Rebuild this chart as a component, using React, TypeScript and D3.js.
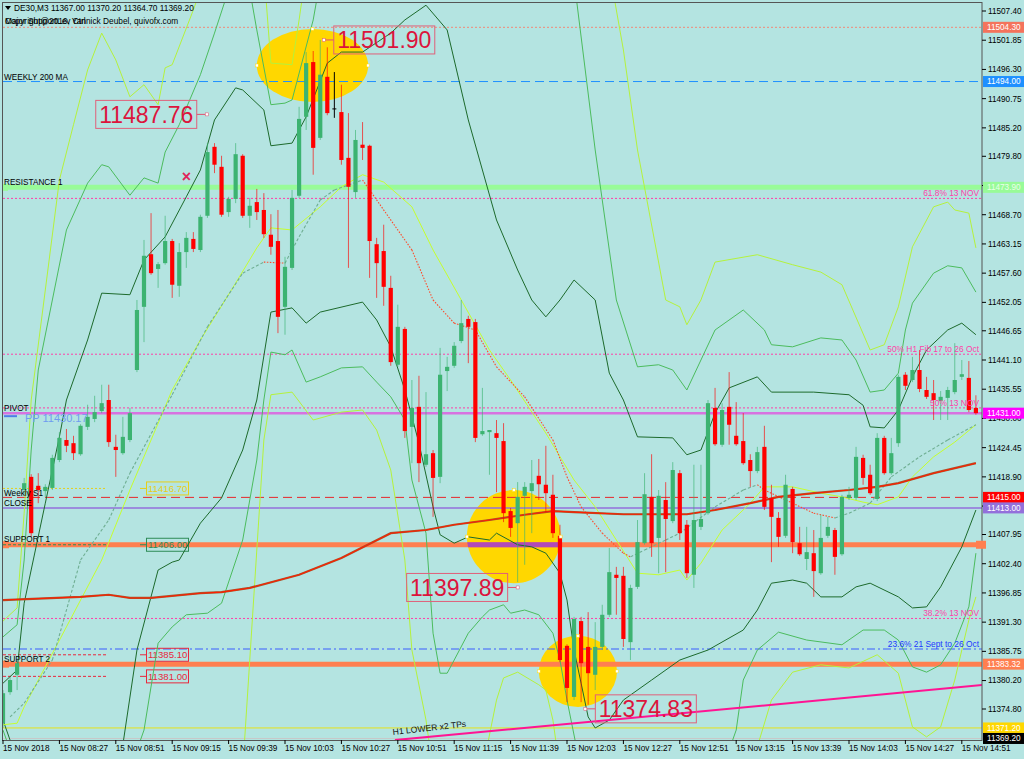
import React from 'react';
import * as d3 from 'd3';

// DE30 M3 candles, 15 Nov 2018, bar 0 = 08:03
const opens = [11372.1,11378.0,11381.3,11416.4,11418.9,11417.2,11416.2,11416.8,11422.1,11425.9,11425.3,11423.2,11428.4,11429.9,11431.4,11433.5,11424.6,11423.4,11425.9,11439.2,11451.2,11461.2,11458.4,11459.5,11463.7,11455.2,11461.6,11464.1,11462.0,11468.5,11481.6,11477.8,11469.2,11471.7,11479.9,11468.5,11471.1,11469.6,11464.9,11463.7,11451.2,11458.6,11472.3,11487.3,11497.7,11483.3,11494.9,11488.8,11488.2,11479.5,11473.0,11482.0,11481.8,11463.1,11461.8,11454.8,11440.2,11447.0,11428.4,11432.2,11421.2,11423.4,11418.9,11439.0,11440.0,11444.7,11448.9,11448.3,11427.0,11427.4,11427.2,11425.7,11412.4,11410.1,11415.3,11416.2,11419.1,11417.4,11415.5,11407.7,11386.8,11377.1,11391.5,11386.6,11381.3,11386.6,11392.7,11400.3,11400.1,11387.5,11398.0,11406.3,11415.1,11407.3,11414.5,11410.5,11419.6,11409.8,11400.3,11409.4,11412.0,11432.0,11425.0,11432.2,11426.7,11425.7,11422.1,11420.0,11424.6,11414.9,11411.1,11407.7,11416.6,11406.3,11403.3,11404.4,11400.6,11407.7,11408.8,11404.2,11414.9,11414.9,11422.5,11419.3,11414.7,11426.3,11419.6,11425.3,11438.3,11437.3,11439.2,11435.4,11434.8,11433.3,11433.9,11435.0,11437.9,11437.7,11432.0];
const highs = [11378.4,11380.9,11384.1,11418.7,11419.4,11419.6,11417.5,11423.1,11427.4,11428.0,11426.7,11428.9,11432.6,11434.3,11436.4,11436.4,11426.9,11430.3,11432.0,11452.5,11463.9,11469.0,11459.7,11468.5,11464.1,11463.3,11465.4,11465.4,11468.7,11482.3,11482.3,11479.9,11472.1,11482.3,11480.2,11471.9,11473.6,11472.8,11468.8,11469.6,11460.7,11473.4,11489.2,11499.6,11499.8,11501.9,11500.5,11495.8,11493.4,11488.0,11484.8,11486.3,11482.0,11464.3,11466.8,11457.1,11451.6,11447.4,11437.3,11438.1,11435.0,11424.0,11443.4,11441.7,11444.5,11452.5,11449.5,11448.9,11435.8,11427.8,11429.7,11429.1,11413.0,11417.9,11417.9,11422.1,11422.3,11424.8,11419.3,11409.8,11387.1,11392.3,11392.3,11393.2,11391.3,11394.6,11405.4,11401.8,11401.8,11398.4,11410.7,11419.6,11423.2,11416.4,11417.9,11421.7,11420.2,11410.7,11421.2,11421.2,11433.5,11435.8,11432.9,11438.8,11433.1,11431.0,11423.2,11424.6,11428.6,11417.4,11412.2,11419.3,11417.0,11409.4,11409.4,11408.8,11411.7,11411.3,11409.2,11415.5,11417.0,11424.6,11423.1,11421.2,11427.2,11426.7,11426.3,11438.3,11438.8,11441.7,11443.0,11437.9,11437.3,11435.2,11436.0,11444.3,11441.1,11440.9,11434.4];
const lows = [11371.2,11377.5,11378.4,11415.5,11407.5,11413.9,11415.1,11416.4,11421.7,11423.6,11422.1,11422.9,11427.8,11429.3,11431.0,11424.6,11418.9,11423.1,11425.5,11438.8,11444.5,11457.3,11454.8,11459.2,11452.9,11453.1,11458.6,11461.6,11461.6,11468.1,11476.6,11468.3,11468.3,11470.9,11468.1,11466.2,11467.7,11464.3,11461.1,11446.2,11445.9,11458.2,11471.9,11484.8,11476.3,11482.9,11487.6,11487.1,11478.2,11458.6,11471.9,11479.1,11456.7,11452.9,11451.4,11440.0,11439.8,11426.3,11421.5,11417.9,11420.8,11411.3,11417.7,11435.2,11439.6,11444.3,11440.5,11425.5,11426.7,11419.3,11416.0,11410.3,11407.5,11398.9,11402.2,11408.2,11414.5,11412.2,11407.3,11383.7,11376.1,11376.5,11376.1,11375.6,11378.4,11386.0,11392.3,11392.7,11386.6,11384.1,11397.6,11406.0,11403.7,11400.6,11400.8,11410.1,11406.9,11399.7,11397.8,11408.8,11411.7,11424.8,11424.6,11425.0,11424.8,11421.2,11417.0,11419.6,11412.6,11402.7,11405.6,11407.3,11404.4,11403.9,11401.2,11396.1,11400.3,11407.3,11400.3,11403.9,11414.5,11414.5,11417.4,11415.5,11414.3,11419.3,11419.3,11424.6,11435.4,11436.9,11435.0,11433.7,11429.7,11429.7,11429.7,11434.6,11437.3,11431.2,11430.7];
const closes = [11377.8,11380.3,11383.5,11417.7,11408.2,11416.4,11417.0,11422.5,11426.3,11424.8,11423.4,11428.6,11430.3,11431.2,11432.9,11425.5,11424.0,11426.5,11431.0,11450.6,11460.9,11457.6,11459.3,11463.7,11455.4,11461.6,11464.3,11462.2,11468.3,11480.6,11478.2,11468.7,11471.7,11480.2,11468.5,11470.4,11469.2,11465.0,11462.6,11449.3,11458.8,11471.9,11486.9,11497.5,11481.4,11495.3,11488.0,11488.8,11479.1,11474.0,11482.9,11481.4,11463.7,11459.5,11455.0,11440.7,11447.4,11427.6,11432.0,11421.5,11423.2,11418.7,11438.3,11439.8,11443.8,11448.1,11447.4,11426.3,11427.6,11427.8,11426.3,11412.0,11409.2,11415.1,11417.0,11417.7,11417.5,11415.8,11408.2,11384.1,11378.8,11391.9,11383.5,11381.6,11386.6,11392.7,11400.8,11399.7,11388.1,11397.8,11406.5,11415.6,11406.3,11415.3,11410.9,11420.2,11408.2,11400.6,11410.7,11410.9,11432.9,11425.1,11431.6,11428.8,11425.1,11421.5,11420.0,11423.6,11413.2,11411.3,11407.5,11417.4,11406.5,11404.2,11404.6,11401.0,11407.3,11409.4,11403.7,11415.1,11415.5,11422.7,11418.7,11415.8,11426.3,11419.6,11423.4,11437.9,11436.2,11439.2,11435.6,11434.1,11433.5,11434.1,11435.4,11437.3,11438.4,11431.6,11431.0];

// indicator lines as [bar, price]
const darkUpper = [[0,11379.7],[2,11382.2],[3,11394.9],[6,11413.9],[8,11426.5],[9,11433.5],[12,11444.9],[14,11453.8],[18,11453.5],[20,11460.1],[23,11464.5],[26,11472.1],[28,11477.2],[30,11486.7],[33,11492.8],[34,11492.4],[37,11488.6],[38,11481.8],[41,11482.3],[43,11487.3],[46,11497.5],[48,11499.6],[51,11499.6],[55,11503.2],[57,11505.7],[60,11508.5],[63,11503.8],[66,11486.7],[70,11467.7],[73,11458.2],[75,11452.5],[77,11449.3],[79,11452.5],[81,11456.3],[84,11452.5],[86,11438.6],[88,11433.5],[90,11426.5],[95,11426.3],[97,11423.1],[99,11424.0],[101,11431.0],[103,11435.8],[107,11437.9],[109,11435.0],[115,11435.0],[120,11434.5],[122,11432.5],[123,11428.4],[125,11428.2],[127,11431.6],[129,11437.9],[131,11443.0],[134,11446.8],[136,11448.1],[138,11445.9]];
const darkLower = [[0,11372.7],[2,11365.1],[15,11361.3],[17,11368.0],[19,11386.0],[22,11401.2],[24,11402.7],[25,11403.1],[28,11410.1],[31,11414.9],[34,11424.0],[36,11433.5],[38,11450.2],[41,11451.0],[43,11448.1],[45,11450.2],[51,11452.1],[53,11448.7],[55,11443.6],[57,11435.4],[59,11425.3],[61,11413.2],[62,11407.9],[64,11406.3],[66,11407.5],[69,11406.9],[70,11408.2],[73,11406.0],[75,11405.6],[77,11404.4],[79,11400.6],[80,11395.5],[81,11386.0],[82,11379.7],[83,11373.3],[84,11371.2],[86,11372.7],[88,11376.5],[92,11380.3],[96,11384.1],[100,11386.0],[105,11389.8],[107,11393.6],[109,11398.7],[112,11399.3],[114,11398.7],[116,11396.1],[119,11396.1],[121,11398.0],[123,11398.7],[127,11396.1],[129,11394.0],[131,11394.2],[133,11398.0],[136,11405.6],[138,11412.6]];
const midUpper = [[0,11388.5],[2,11390.8],[3,11403.1],[4,11424.0],[5,11439.2],[7,11452.5],[9,11465.8],[12,11474.7],[14,11478.2],[15,11477.8],[18,11472.4],[20,11475.7],[22,11474.7],[23,11480.6],[25,11485.8],[28,11495.3],[30,11503.2],[32,11511.4],[35,11511.4],[36,11503.8],[38,11489.6],[40,11489.9],[41,11490.5],[44,11505.7],[45,11513.3],[81,11513.3],[84,11481.0],[87,11452.5],[90,11439.8],[93,11440.2],[95,11439.2],[97,11435.4],[99,11441.1],[101,11446.8],[105,11450.6],[108,11446.8],[109,11444.0],[112,11443.6],[116,11445.3],[119,11444.9],[121,11441.1],[123,11435.0],[125,11435.4],[127,11438.6],[128,11446.8],[129,11451.9],[132,11457.6],[134,11459.0],[136,11458.6],[138,11454.0]];
const midLower = [[0,11370.8],[2,11363.2],[18,11363.2],[20,11370.8],[22,11387.3],[24,11390.4],[26,11392.7],[29,11393.0],[31,11394.9],[34,11406.9],[36,11422.1],[37,11433.5],[38,11442.6],[40,11442.1],[41,11443.0],[43,11436.9],[45,11437.9],[48,11439.6],[51,11439.8],[53,11436.9],[55,11434.1],[57,11429.7],[58,11418.3],[60,11408.2],[61,11389.2],[62,11381.6],[63,11381.6],[64,11384.1],[66,11389.2],[68,11392.3],[69,11393.6],[71,11394.6],[72,11393.0],[74,11393.6],[76,11392.7],[78,11389.2],[79,11384.1],[80,11376.5],[82,11363.2],[102,11363.2],[104,11370.8],[105,11380.3],[107,11386.0],[110,11389.4],[114,11387.9],[119,11387.0],[122,11389.8],[125,11389.8],[127,11387.9],[129,11382.8],[131,11381.8],[133,11383.2],[135,11387.3],[137,11394.2],[138,11404.4]];
const lightUpper = [[0,11391.5],[2,11394.0],[3,11412.0],[4,11433.5],[6,11454.4],[8,11475.3],[10,11485.8],[12,11496.2],[14,11503.2],[16,11498.1],[18,11491.1],[20,11493.4],[22,11489.6],[23,11496.6],[24,11497.2],[27,11507.6],[29,11515.2],[37,11515.2],[38,11497.5],[41,11497.2],[42,11505.7],[43,11515.2],[86,11515.2],[88,11500.0],[90,11481.0],[94,11452.5],[96,11451.2],[97,11447.8],[99,11452.5],[101,11459.7],[107,11461.1],[112,11459.2],[116,11457.8],[119,11455.4],[123,11443.0],[125,11444.0],[127,11451.2],[129,11462.6],[132,11470.2],[134,11471.1],[135,11469.6],[137,11469.0],[138,11462.4]];
const lightLower = [[0,11362.0],[34,11363.2],[37,11425.9],[38,11434.5],[41,11435.0],[44,11429.7],[48,11431.2],[51,11431.6],[53,11427.8],[55,11420.2],[57,11403.1],[58,11386.0],[60,11372.7],[61,11363.2],[68,11363.2],[70,11376.5],[71,11380.7],[73,11381.8],[76,11379.4],[77,11378.4],[78,11372.7],[79,11363.2],[106,11363.2],[109,11376.5],[112,11381.8],[116,11383.2],[120,11382.6],[124,11385.1],[127,11381.6],[129,11371.4],[131,11369.5],[133,11371.4],[135,11380.3],[137,11391.7],[138,11396.1]];
const fastMa = [[0,11371.8],[2,11372.1],[3,11375.2],[9,11390.4],[14,11403.1],[18,11416.4],[24,11435.4],[28,11444.9],[33,11455.7],[36,11462.4],[38,11466.2],[41,11465.8],[45,11470.2],[48,11474.0],[51,11476.3],[54,11474.9],[58,11470.2],[61,11462.0],[65,11452.5],[69,11443.0],[72,11437.3],[77,11427.2],[81,11418.3],[84,11413.2],[87,11406.9],[90,11400.6],[93,11400.3],[96,11401.2],[97,11399.3],[99,11402.5],[102,11408.8],[106,11413.9],[108,11417.0],[112,11417.0],[116,11415.8],[119,11415.1],[122,11414.1],[124,11413.6],[127,11415.1],[129,11418.9],[132,11422.7],[135,11425.5],[138,11428.8]];
const signalMa = [[1,11373.3],[3,11375.9],[7,11384.1],[11,11403.1],[15,11410.7],[18,11419.6],[24,11434.5],[29,11447.4],[34,11457.6],[37,11459.7],[40,11459.5],[42,11464.5],[45,11471.5],[47,11473.4],[51,11475.3],[52,11473.4],[58,11462.0],[61,11452.5],[64,11448.1],[67,11446.8],[70,11439.8],[74,11434.1],[78,11425.9],[80,11418.9],[82,11413.2],[85,11408.2],[88,11404.4],[89,11403.7],[91,11405.0],[94,11406.9],[96,11408.2],[101,11413.2],[105,11416.4],[107,11417.4],[108,11416.4],[112,11413.9],[115,11412.0],[118,11411.1],[120,11412.0],[123,11413.9],[126,11418.9],[130,11422.7],[134,11425.9],[138,11428.8]];
const slowMa = [[0,11395.5],[11,11396.1],[15,11396.5],[18,11395.9],[21,11395.9],[28,11396.8],[31,11397.0],[35,11397.8],[42,11400.3],[48,11403.5],[55,11408.2],[60,11408.8],[64,11409.8],[69,11410.7],[74,11411.7],[78,11412.4],[81,11412.2],[88,11411.8],[97,11411.8],[101,11412.6],[106,11413.9],[110,11415.1],[115,11415.8],[120,11416.4],[124,11417.0],[127,11417.7],[132,11419.6],[138,11421.5]];
const trendH1 = [[55.6,11368.9],[139.2,11379.4]];

// axis labels
const timeLabels = ['15 Nov 2018','15 Nov 08:27','15 Nov 08:51','15 Nov 09:15','15 Nov 09:39','15 Nov 10:03','15 Nov 10:27','15 Nov 10:51','15 Nov 11:15','15 Nov 11:39','15 Nov 12:03','15 Nov 12:27','15 Nov 12:51','15 Nov 13:15','15 Nov 13:39','15 Nov 14:03','15 Nov 14:27','15 Nov 14:51'];
const priceTicks = [11507.40,11501.85,11496.30,11490.75,11485.20,11479.80,11474.25,11468.70,11463.15,11457.60,11452.05,11446.65,11441.10,11435.55,11430.00,11424.45,11418.90,11413.35,11407.95,11402.40,11396.85,11391.30,11385.75,11380.20,11374.80];

// horizontal levels
const TOP_LEVEL = 11504.3;
const WEEKLY_200_MA = 11494.0;
const RESISTANCE_1 = 11473.9;
const FIB_618_NOV = 11471.8;
const FIB_50_OCT = 11442.2;
const FIB_50_NOV = 11432.0;
const PIVOT = 11431.0;
const WEEKLY_S1 = 11416.7;
const CLOSE_LEVEL = 11415.0;
const PURPLE_LEVEL = 11413.0;
const SUPPORT_1 = 11406.0;
const FIB_382_NOV = 11392.0;
const FIB_236_OCT = 11386.2;
const TAG_A = 11385.1;
const SUPPORT_2 = 11383.32;
const TAG_B = 11381.0;
const YELLOW_LEVEL = 11371.2;
const BID = 11369.2;

// drawn objects
const annBars = [45.5, 28.9, 73.0, 82.6];
const annPrices = [11501.9, 11487.76, 11397.89, 11374.83];
const annSides = [1, -1, -1, 1];
const ellBars = [[36.0, 51.8], [65.8, 79.1], [76.0, 87.1]];
const ellPrices = [[11504.0, 11490.1], [11416.4, 11398.7], [11388.7, 11375.2]];
const crossPoint = [26, 11475.9];

const FONT = "'Liberation Sans', Arial, sans-serif";
const BG = '#b4e4e1';

export default function App() {
  const L = 3, R = 982, T = 2, B = 740;
  const x = d3.scaleLinear().domain([0, 138]).range([3, 3 + 138 * 7.05]);
  const y = d3.scaleLinear().domain([11374.8, 11507.4]).range([709, 11]);
  const line = d3.line<number[]>().x(d => x(d[0])).y(d => y(d[1]));

  const hl = (p: number, stroke: string, w: number, dash?: string, x1 = L, x2 = R) => (
    <line x1={x1} x2={x2} y1={y(p)} y2={y(p)} stroke={stroke} strokeWidth={w} strokeDasharray={dash} />
  );

  const rightTag = (p: number, fill: string, text: string, color = '#fff') => (
    <g key={text}>
      <rect x={983} y={y(p) - 5.5} width={41} height={11} fill={fill} />
      <text x={987} y={y(p)} dy="0.35em" fontSize={8.2} fill={color}>{text}</text>
    </g>
  );

  const leftBox = (p: number, color: string, text: string, dash: string) => (
    <g key={text}>
      <line x1={L} x2={107} y1={y(p)} y2={y(p)} stroke={color} strokeDasharray={dash} />
      <line x1={140} x2={146} y1={y(p)} y2={y(p)} stroke={color} />
      <rect x={146.5} y={y(p) - 6.5} width={42} height={13} fill="none" stroke={color} />
      <text x={148} y={y(p)} dy="0.36em" fontSize={9.6} fill={color}>{text}</text>
    </g>
  );

  const fibText = (p: number, text: string, color: string) => (
    <text x={979} y={y(p) - 2} textAnchor="end" fontSize={8.4} fill={color}>{text}</text>
  );

  const ellipseGeo = ellBars.map((b, i) => {
    const x0 = x(b[0]), x1 = x(b[1]);
    const y0 = y(ellPrices[i][0]), y1 = y(ellPrices[i][1]);
    return { cx: (x0 + x1) / 2, cy: (y0 + y1) / 2, rx: (x1 - x0) / 2, ry: (y1 - y0) / 2 };
  });

  const signalSegs = signalMa.slice(1).map((d, i) => {
    const prev = signalMa[i];
    const up = d[1] >= prev[1];
    return (
      <line key={i} x1={x(prev[0])} y1={y(prev[1])} x2={x(d[0])} y2={y(d[1])}
        stroke={up ? '#6fae92' : '#ff4a2a'} strokeWidth={1.1} strokeDasharray={up ? '3,2' : '1.5,1.5'} />
    );
  });

  return (
    <div style={{ position: 'fixed', left: 0, top: 0 }}>
      <svg width={1024} height={759} style={{ display: 'block', fontFamily: FONT }}>
        <defs>
          <clipPath id="plot"><rect x={L} y={T} width={R - L} height={B - T} /></clipPath>
          <clipPath id="ell2"><ellipse {...ellipseGeo[1]} /></clipPath>
        </defs>
        <rect width={1024} height={759} fill={BG} />

        <g clipPath="url(#plot)">
          {/* highlighted zones */}
          {ellipseGeo.map((e, i) => <ellipse key={i} {...e} fill="#ffd700" />)}

          {/* levels */}
          {hl(TOP_LEVEL, '#f28a78', 1, '2,2')}
          {hl(WEEKLY_200_MA, '#1e90ff', 1, '9,5')}
          {hl(RESISTANCE_1, '#98fb98', 5)}
          <rect x={L} y={y(RESISTANCE_1) - 3.5} width={5} height={7} fill="#98fb98" />
          {hl(FIB_618_NOV, '#ff3fa8', 1, '2,2')}
          {hl(FIB_50_OCT, '#ff3fa8', 1, '2,2')}
          {hl(FIB_50_NOV, '#ff3fa8', 1, '2,2')}
          {hl(PIVOT, '#d772e0', 2.5)}
          {hl(CLOSE_LEVEL, '#e8262a', 1, '9,5')}
          {hl(PURPLE_LEVEL, '#9370db', 1.5)}
          {hl(SUPPORT_1, '#ff7f50', 5)}
          <line x1={L} x2={R} y1={y(SUPPORT_1)} y2={y(SUPPORT_1)} stroke="#b04ab8" strokeWidth={5} clipPath="url(#ell2)" />
          {hl(FIB_382_NOV, '#ff3fa8', 1, '2,2')}
          {hl(FIB_236_OCT, '#3a5cff', 1.2, '8,3,2,3')}
          {hl(SUPPORT_2, '#ff7f50', 5)}
          {hl(YELLOW_LEVEL, '#e6e21a', 1)}
          {hl(BID, '#c8c8c8', 1)}
          <rect x={L} y={y(SUPPORT_1) - 3.5} width={6} height={7} fill="#ff7f50" />
          <rect x={L} y={y(SUPPORT_2) - 3.5} width={6} height={7} fill="#ff7f50" />
          {leftBox(WEEKLY_S1, '#e6cf1a', '11416.70', '2,2')}
          {leftBox(SUPPORT_1, '#2e8b57', '11406.00', '3,2')}
          {leftBox(TAG_A, '#e8283c', '11385.10', '3,2')}
          {leftBox(TAG_B, '#e8283c', '11381.00', '3,2')}

          {/* bands & averages */}
          <path d={line(lightUpper as number[][]) ?? ''} fill="none" stroke="#b4f23c" strokeWidth={1} />
          <path d={line(lightLower as number[][]) ?? ''} fill="none" stroke="#b4f23c" strokeWidth={1} />
          <path d={line(midUpper as number[][]) ?? ''} fill="none" stroke="#4cbc5e" strokeWidth={1} />
          <path d={line(midLower as number[][]) ?? ''} fill="none" stroke="#4cbc5e" strokeWidth={1} />
          <path d={line(darkUpper as number[][]) ?? ''} fill="none" stroke="#1d6a2c" strokeWidth={1} />
          <path d={line(darkLower as number[][]) ?? ''} fill="none" stroke="#1d6a2c" strokeWidth={1} />
          <path d={line(fastMa as number[][]) ?? ''} fill="none" stroke="#c6ff2e" strokeWidth={1} />
          {signalSegs}
          <path d={line(slowMa as number[][]) ?? ''} fill="none" stroke="#a5582e" strokeWidth={2.2} />
          <path d={line(slowMa as number[][]) ?? ''} fill="none" stroke="#ff1e00" strokeWidth={1.1} />
          <path d={line(trendH1 as number[][]) ?? ''} fill="none" stroke="#ff1493" strokeWidth={2} />

          {/* candles */}
          {opens.map((o, i) => {
            const c = closes[i];
            const col = c > o ? '#3cb371' : c < o ? '#ff0000' : '#000';
            const cx = x(i);
            const top = y(Math.max(o, c)), bot = y(Math.min(o, c));
            return (
              <g key={i}>
                <line x1={cx} x2={cx} y1={y(highs[i])} y2={y(lows[i])} stroke={col} strokeOpacity={col === '#000' ? 1 : 0.65} />
                {col === '#000'
                  ? <line x1={cx - 2} x2={cx + 2} y1={top} y2={top} stroke="#000" />
                  : <rect x={cx - 2.1} y={top} width={4.2} height={Math.max(1, bot - top)} fill={col} />}
              </g>
            );
          })}

          {/* ellipse handles */}
          {ellipseGeo.map((e, i) => (
            <g key={i} fill="#fff" stroke="#ffd700" strokeWidth={0.5}>
              <rect x={e.cx - e.rx - 1.5} y={e.cy - 1.5} width={3} height={3} />
              <rect x={e.cx + e.rx - 1.5} y={e.cy - 1.5} width={3} height={3} />
              <rect x={e.cx - 1.5} y={e.cy - e.ry - 1.5} width={3} height={3} />
            </g>
          ))}

          {/* price callouts */}
          {annBars.map((b, i) => {
            const ax = x(b), ay = y(annPrices[i]);
            const w = 101, h = 28;
            const bx = annSides[i] > 0 ? ax + 10 : ax - 10 - w;
            const edge = annSides[i] > 0 ? bx : bx + w;
            return (
              <g key={i}>
                <line x1={ax} x2={edge} y1={ay} y2={ay} stroke="#e0506e" />
                <rect x={ax - 1.5} y={ay - 1.5} width={3} height={3} fill="#fff" stroke="#e0506e" strokeWidth={0.5} />
                <rect x={bx} y={ay - h / 2} width={w} height={h} fill="none" stroke="#e0607a" />
                <text x={bx + w / 2} y={ay} dy="0.36em" textAnchor="middle" fontSize={23} fill="#dc143c">
                  {annPrices[i].toFixed(2)}
                </text>
              </g>
            );
          })}
          <text x={x(crossPoint[0])} y={y(crossPoint[1])} dy="0.35em" textAnchor="middle" fontSize={16} fontWeight="bold" fill="#e0245a">×</text>

          {/* text labels on the chart */}
          <g fontSize={8.2} fill="#000">
            <text x={4} y={y(WEEKLY_200_MA) - 4} dy="0.35em">WEEKLY 200 MA</text>
            <text x={4} y={y(RESISTANCE_1) - 5} dy="0.35em">RESISTANCE 1</text>
            <text x={4} y={y(PIVOT) - 5} dy="0.35em">PIVOT</text>
            <text x={4} y={y(CLOSE_LEVEL) - 4} dy="0.35em">Weekly S1</text>
            <text x={4} y={y(CLOSE_LEVEL) + 6} dy="0.35em">CLOSE</text>
            <text x={4} y={y(SUPPORT_1) - 6} dy="0.35em">SUPPORT 1</text>
            <text x={4} y={y(SUPPORT_2) - 5} dy="0.35em">SUPPORT 2</text>
          </g>
          <line x1={4} x2={17} y1={y(PIVOT) + 3} y2={y(PIVOT) + 3} stroke="#4f7de8" strokeWidth={2} />
          <text x={25} y={y(PIVOT) + 5} dy="0.35em" fontSize={11} fill="#6f9cf0">PP 11430.17</text>

          {fibText(FIB_618_NOV, '61.8%   13 NOV', '#ff3fa8')}
          {fibText(FIB_50_OCT, '50%   H1 Fib 17 to 26 Oct', '#ff3fa8')}
          {fibText(FIB_50_NOV, '50%   13 NOV', '#ff3fa8')}
          {fibText(FIB_382_NOV, '38.2%   13 NOV', '#ff3fa8')}
          {fibText(FIB_236_OCT, '23.6%   21 Sept to 26 Oct', '#2038ff')}

          <text transform={`translate(${x(55.6) - 2},${y(trendH1[0][1]) - 5}) rotate(-6.5)`} fontSize={8.6} fill="#111">H1 LOWER x2 TPs</text>

          {/* header */}
          <path d="M5,6 L11,6 L8,10 Z" fill="#000" />
          <text x={14} y={8} dy="0.35em" fontSize={8.3} fill="#000">DE30,M3  11367.00 11370.20 11364.70 11369.20</text>
          <text x={5} y={21} dy="0.35em" fontSize={8.3} fill="#000">Copyright@2016, Yannick Deubel, quivofx.com</text>
          <text x={5} y={21} dy="0.35em" fontSize={8.3} fill="#000">Major SupportLev Ctrl</text>
        </g>

        {/* frame */}
        <rect x={L - 0.5} y={T + 0.5} width={R - L + 0.5} height={B - T} fill="none" stroke="#555" strokeWidth={1} />

        {/* right axis */}
        {priceTicks.map(p => (
          <g key={p}>
            <line x1={R} x2={R + 4} y1={y(p)} y2={y(p)} stroke="#000" />
            <text x={988} y={y(p)} dy="0.35em" fontSize={8.2} fill="#000">{p.toFixed(2)}</text>
          </g>
        ))}
        {rightTag(TOP_LEVEL, '#f4735c', '11504.30')}
        {rightTag(WEEKLY_200_MA, '#1e90ff', '11494.00')}
        {rightTag(RESISTANCE_1, '#98fb98', '11473.90', '#e8ffe8')}
        {rightTag(PIVOT, '#ff00ff', '11431.00')}
        {rightTag(CLOSE_LEVEL, '#ff0000', '11415.00')}
        {rightTag(PURPLE_LEVEL, '#9370db', '11413.00')}
        <rect x={976} y={y(SUPPORT_1) - 4} width={10} height={8} fill="#ff7f50" />
        {rightTag(SUPPORT_2, '#ff7f50', '11383.32')}
        {rightTag(YELLOW_LEVEL, '#ffd700', '11371.20')}
        {rightTag(BID, '#000', '11369.20')}

        {/* time axis */}
        {timeLabels.map((t, k) => (
          <g key={t}>
            <line x1={x(k * 8)} x2={x(k * 8)} y1={B} y2={B + 4} stroke="#000" />
            <text x={x(k * 8)} y={748} dy="0.35em" fontSize={8.2} fill="#000">{t}</text>
          </g>
        ))}
      </svg>
    </div>
  );
}
